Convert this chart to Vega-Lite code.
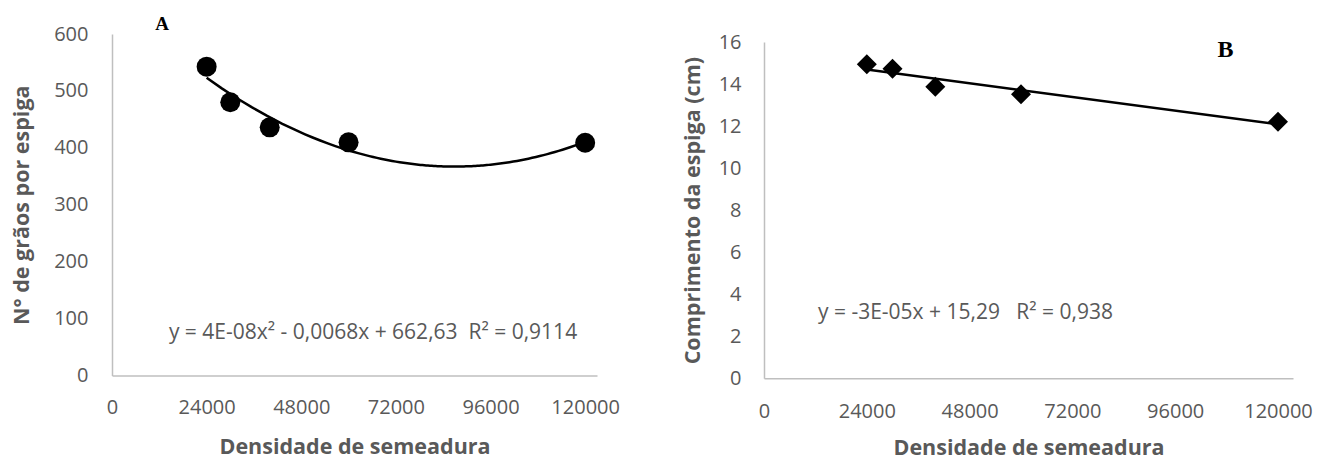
{
  "$schema": "https://vega.github.io/schema/vega-lite/v6.json",
  "background": "white",
  "padding": {"left": 11, "top": 15, "right": 5, "bottom": 0},
  "config": {
    "view": {"stroke": null},
    "font": "Open Sans",
    "axis": {
      "grid": false,
      "ticks": false,
      "domainColor": "#bfbfbf",
      "domainWidth": 1.5,
      "labelColor": "#595959",
      "labelFont": "Open Sans",
      "labelFontSize": 20,
      "labelFlush": false,
      "labelOverlap": false,
      "titleColor": "#595959",
      "titleFont": "Open Sans",
      "titleFontSize": 21.5,
      "titleFontWeight": "bold"
    }
  },
  "datasets": {
    "a": [
      {"densidade": 24000, "valor": 542.6},
      {"densidade": 30000, "valor": 480},
      {"densidade": 40000, "valor": 436},
      {"densidade": 60000, "valor": 409.7},
      {"densidade": 120000, "valor": 409}
    ],
    "b": [
      {"densidade": 24000, "valor": 14.94},
      {"densidade": 30000, "valor": 14.73},
      {"densidade": 40000, "valor": 13.87},
      {"densidade": 60000, "valor": 13.51},
      {"densidade": 120000, "valor": 12.21}
    ],
    "notesA": [
      {"densidade": 12680, "valor": 616.7, "label": "A", "kind": "panel"},
      {"densidade": 66192, "valor": 74.7, "label": "y = 4E-08x² - 0,0068x + 662,63\u00a0\u00a0R² = 0,9114", "kind": "eq"}
    ],
    "notesB": [
      {"densidade": 107740, "valor": 15.64, "label": "B", "kind": "panel"},
      {"densidade": 47040, "valor": 3.09, "label": "y = -3E-05x + 15,29\u00a0\u00a0\u00a0R² = 0,938", "kind": "eq"}
    ]
  },
  "bounds": "flush",
  "spacing": 167,
  "hconcat": [
    {
      "width": 485,
      "height": 341.5,
      "encoding": {
        "x": {
          "field": "densidade", "type": "quantitative",
          "scale": {"domain": [0, 123000], "nice": false},
          "axis": {"values": [0, 24000, 48000, 72000, 96000, 120000], "format": "d", "labelPadding": 22, "titlePadding": 18.5, "title": "Densidade de semeadura"}
        },
        "y": {
          "field": "valor", "type": "quantitative",
          "scale": {"domain": [0, 600], "nice": false},
          "axis": {"values": [0, 100, 200, 300, 400, 500, 600], "labelPadding": 24, "titlePadding": 20, "title": "N° de grãos por espiga"}
        }
      },
      "layer": [
        {
          "data": {"name": "a"},
          "transform": [{"regression": "valor", "on": "densidade", "method": "poly", "order": 2}],
          "mark": {"type": "line", "color": "black", "strokeWidth": 2.5}
        },
        {
          "data": {"name": "a"},
          "mark": {"type": "point", "shape": "circle", "filled": true, "size": 400, "color": "black", "opacity": 1}
        },
        {
          "data": {"name": "notesA"},
          "transform": [{"filter": "datum.kind === 'panel'"}],
          "mark": {"type": "text", "font": "Liberation Serif", "fontWeight": "bold", "fontSize": 19, "color": "black", "align": "center", "baseline": "middle"},
          "encoding": {"text": {"field": "label"}}
        },
        {
          "data": {"name": "notesA"},
          "transform": [{"filter": "datum.kind === 'eq'"}],
          "mark": {"type": "text", "font": "Open Sans", "fontSize": 21, "color": "#595959", "align": "center", "baseline": "middle"},
          "encoding": {"text": {"field": "label"}}
        }
      ]
    },
    {
      "width": 529,
      "height": 344.3,
      "encoding": {
        "x": {
          "field": "densidade", "type": "quantitative",
          "scale": {"domain": [0, 123500], "nice": false},
          "axis": {"values": [0, 24000, 48000, 72000, 96000, 120000], "format": "d", "labelPadding": 23, "titlePadding": 16.5, "title": "Densidade de semeadura"}
        },
        "y": {
          "field": "valor", "type": "quantitative",
          "scale": {"domain": [0, 16], "nice": false, "range": [344.3, 8]},
          "axis": {"values": [0, 2, 4, 6, 8, 10, 12, 14, 16], "labelPadding": 23, "titlePadding": 14, "title": "Comprimento da espiga (cm)"}
        }
      },
      "layer": [
        {
          "data": {"name": "b"},
          "transform": [{"regression": "valor", "on": "densidade", "method": "linear"}],
          "mark": {"type": "line", "color": "black", "strokeWidth": 2.5}
        },
        {
          "data": {"name": "b"},
          "mark": {"type": "point", "shape": "diamond", "filled": true, "size": 400, "color": "black", "opacity": 1}
        },
        {
          "data": {"name": "notesB"},
          "transform": [{"filter": "datum.kind === 'panel'"}],
          "mark": {"type": "text", "font": "Liberation Serif", "fontWeight": "bold", "fontSize": 24, "color": "black", "align": "center", "baseline": "middle"},
          "encoding": {"text": {"field": "label"}}
        },
        {
          "data": {"name": "notesB"},
          "transform": [{"filter": "datum.kind === 'eq'"}],
          "mark": {"type": "text", "font": "Open Sans", "fontSize": 21, "color": "#595959", "align": "center", "baseline": "middle"},
          "encoding": {"text": {"field": "label"}}
        }
      ]
    }
  ]
}
